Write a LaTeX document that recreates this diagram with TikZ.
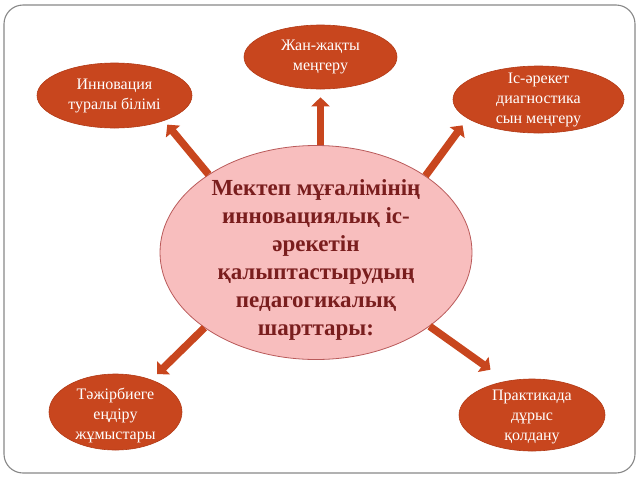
\documentclass[tikz,border=0pt]{standalone}
\usepackage{fontspec}
\setmainfont{Liberation Serif}
\usetikzlibrary{shapes.geometric,arrows.meta}

\definecolor{rust}{RGB}{200,70,30}
\definecolor{rustedge}{RGB}{178,58,22}
\definecolor{hubpink}{RGB}{248,190,190}
\definecolor{hubedge}{RGB}{185,90,90}
\definecolor{hubred}{RGB}{122,30,30}
\definecolor{framegray}{RGB}{135,135,135}

\tikzset{
  idea/.style={ellipse, fill=rust, draw=rustedge, line width=0.6pt, inner sep=0pt},
  ideatext/.style={text=white, font=\fontsize{16}{20}\selectfont, align=center},
  hub/.style={ellipse, fill=hubpink, draw=hubedge, line width=0.8pt, inner sep=0pt,
    minimum width=312pt, minimum height=214pt},
  hubtext/.style={text=hubred, font=\fontsize{23}{28}\selectfont\bfseries, align=center},
  pointer/.style={rust, line width=7.5pt, -{Triangle[width=18pt,length=9pt]}},
}

\begin{document}
\begin{tikzpicture}[x=1pt, y=-1pt]
\useasboundingbox (0,0) rectangle (640,480);
\draw[framegray, line width=1.1pt, rounded corners=19pt] (4,5) rectangle (635,473);

\node[hub] (c) at (316,252.5) {};
\node[hubtext] (ctext) at ([yshift=-7.5pt]c.center)
  {Мектеп мұғалімінің\\инновациялық іс-\\әрекетін\\қалыптастырудың\\педагогикалық\\шарттары:};

\node[idea, minimum width=153pt, minimum height=64pt,
  label={[ideatext]center:Жан-жақты\\меңгеру}] (t) at (320.5,57) {};
\node[idea, minimum width=155pt, minimum height=65pt,
  label={[ideatext]center:Инновация\\туралы білімі}] (tl) at (114.5,95.5) {};
\node[idea, minimum width=171pt, minimum height=67pt,
  label={[ideatext]center:Іс-әрекет\\диагностика\\сын меңгеру}] (tr) at (538.5,99.5) {};
\node[idea, minimum width=133pt, minimum height=76pt,
  label={[ideatext, yshift=-3pt]center:Тәжірбиеге\\еңдіру\\жұмыстары}] (bl) at (115.5,412) {};
\node[idea, minimum width=146pt, minimum height=72pt,
  label={[ideatext, yshift=-2pt]center:Практикада\\дұрыс\\қолдану}] (br) at (532,415) {};

\draw[pointer, shorten >=8pt] (c.north -| t.south) -- (t.south);
\draw[pointer, shorten >=5pt] (c.144.3) -- (tl.-27.8);
\draw[pointer, shorten >=8.5pt] (c.35.4) -- (tr.-165.7);
\draw[pointer, shorten >=8pt] (c.-146.4) -- (bl.42.9);
\draw[pointer, shorten >=19.5pt] (c.-33.3) -- (br.127.8);
\end{tikzpicture}
\end{document}
